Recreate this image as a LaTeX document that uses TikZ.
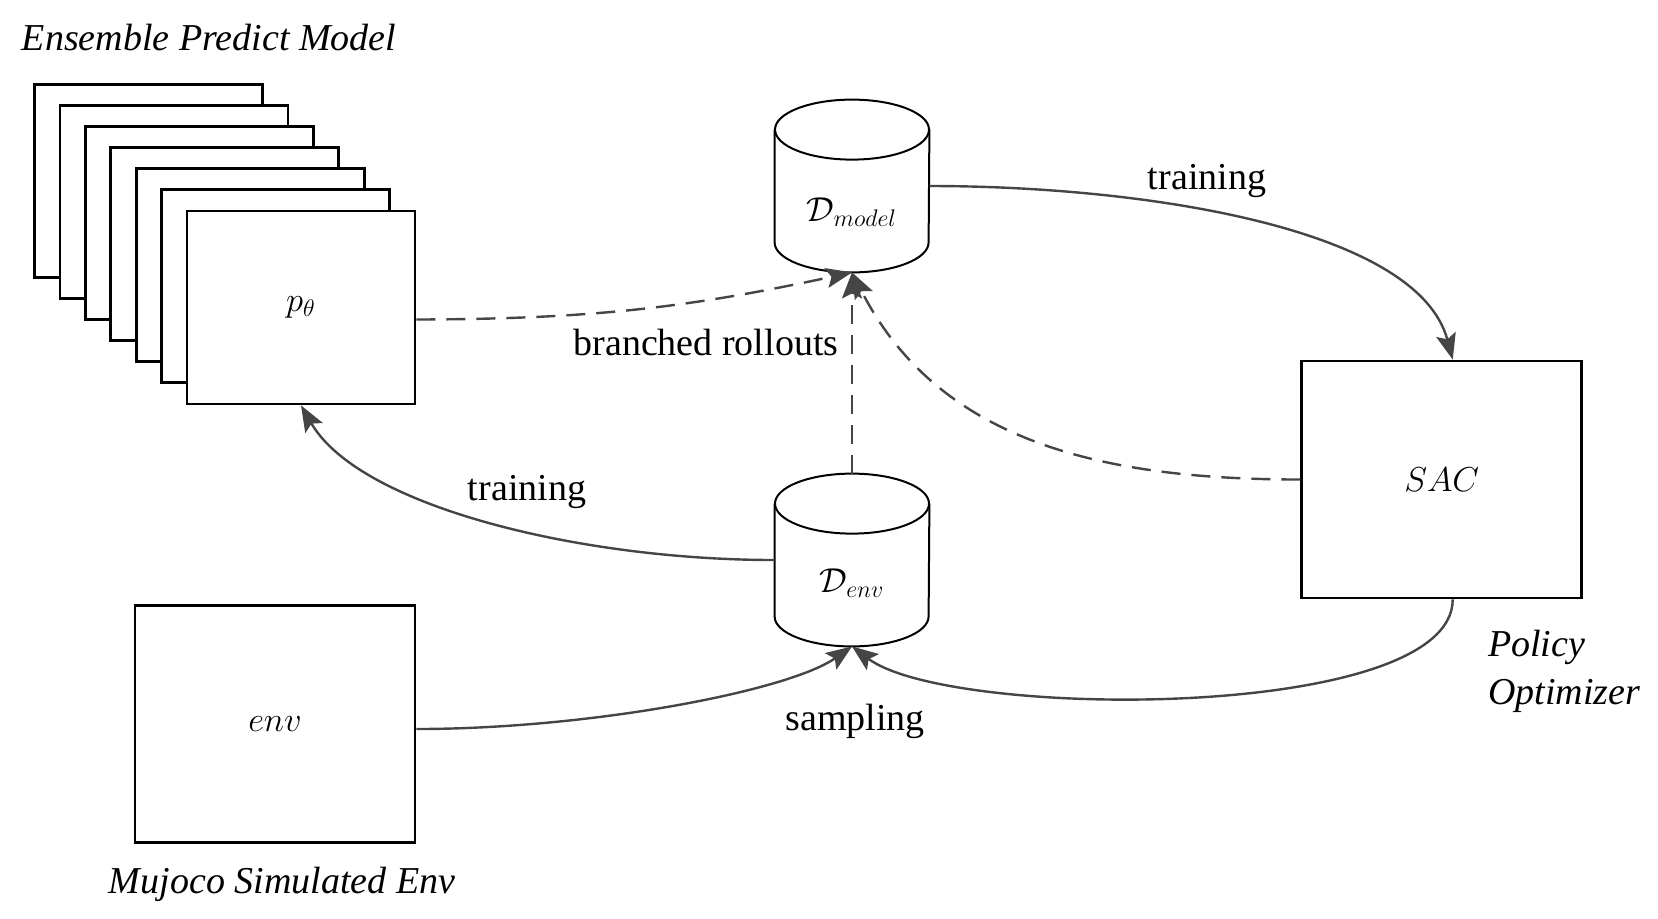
\documentclass[tikz,border=0pt]{standalone}
\usepackage{amsmath, amssymb}
\usepackage{fontspec}
\setmainfont{Liberation Serif}
\usepackage{tikz}
\usetikzlibrary{arrows.meta}
\definecolor{linegray}{gray}{0.27}

\begin{document}
\begin{tikzpicture}[x=0.5pt, y=0.5pt,
        modelbox/.style={draw=black, fill=white, line width=1.4pt, minimum width=114pt, minimum height=96.5pt, inner sep=0pt},
        bigbox/.style={draw=black, fill=white, line width=1.4pt, minimum width=140pt, minimum height=118.5pt, inner sep=0pt},
        buffer/.style={minimum width=77pt, minimum height=86pt, inner sep=0pt},
        bufline/.style={draw=black, line width=1pt},
        mathlbl/.style={font=\fontsize{17}{20}\selectfont},
        lbl/.style={font=\fontsize{19}{23}\selectfont},
        ttl/.style={font=\fontsize{19}{23}\selectfont\itshape},
        flow/.style={draw=linegray, line width=1.2pt, -{Stealth[length=13pt, width=10pt, inset=2.5pt]}},
        rollout/.style={flow, dash pattern=on 9.5pt off 5.5pt}]
            \useasboundingbox (0,0) rectangle (1658,-918);

            % ensemble of models, back to front
            \node[modelbox] (m1) at (148.6,-180.6) {};
            \node[modelbox] (m2) at (174,-201.75) {};
            \node[modelbox] (m3) at (199.4,-222.9) {};
            \node[modelbox] (m4) at (224.8,-244.05) {};
            \node[modelbox] (m5) at (250.2,-265.2) {};
            \node[modelbox] (m6) at (275.6,-286.35) {};
            \node[modelbox, mathlbl] (P) at (301,-307.5) {$p_\theta$};

            % replay buffers
            \node[buffer] (Dm) at (852,-186) {};
            \node[buffer] (De) at (852,-560) {};
            \foreach \buf in {Dm, De} {
                \draw[bufline] ([yshift=-15pt]\buf.north west) -- ([yshift=15pt]\buf.south west)
                    arc[start angle=180, end angle=360, x radius=38.5pt, y radius=15pt]
                    -- ([yshift=-15pt]\buf.north east);
                \draw[bufline] ([yshift=-15pt]\buf.north) ellipse[x radius=38.5pt, y radius=15pt];
            }
            \node[mathlbl] (DmL) at ([yshift=-13pt]Dm.center) {$\mathcal{D}_{model}$};
            \node[mathlbl] (DeL) at ([yshift=-11.5pt]De.center) {$\mathcal{D}_{env}$};

            \node[bigbox, mathlbl] (S) at (1441.7,-479.5) {$SAC$};
            \node[bigbox, mathlbl] (E) at (275,-724) {$env$};

            \node[ttl] (tEns) at (209,-38) {Ensemble Predict Model};
            \node[ttl] (tMuj) at (282,-884) {Mujoco Simulated Env};
            \node[ttl, align=left, anchor=west, font=\fontsize{19}{24}\selectfont\itshape] (tPol) at (1481,-671) {Policy\\Optimizer};

            \node[lbl] (l1) at (1207,-181) {training};
            \node[lbl] (l2) at (706,-342) {branched rollouts};
            \node[lbl] (l3) at (527,-492) {training};
            \node[lbl] (l4) at (855,-721) {sampling};

            \path (Dm.east) edge[flow, out=0, in=105, out looseness=1, in looseness=0.63] ([xshift=5.5pt]S.north);
            \path ([yshift=-6pt]P.east) edge[rollout, bend right=6] (Dm.south);
            \path (De.north) edge[rollout] (Dm.south);
            \path (S.west) edge[rollout, out=180, in=-63] (Dm.south);
            \path (De.west) edge[flow, out=180, in=-60, out looseness=1, in looseness=0.6] (P.south);
            \path ([yshift=-2.5pt]E.east) edge[flow, out=0, in=-145, out looseness=1, in looseness=0.45] (De.south);
            \path ([xshift=5.5pt]S.south) edge[flow, out=-90, in=-37, looseness=0.52] (De.south);
        \end{tikzpicture}
\end{document}
